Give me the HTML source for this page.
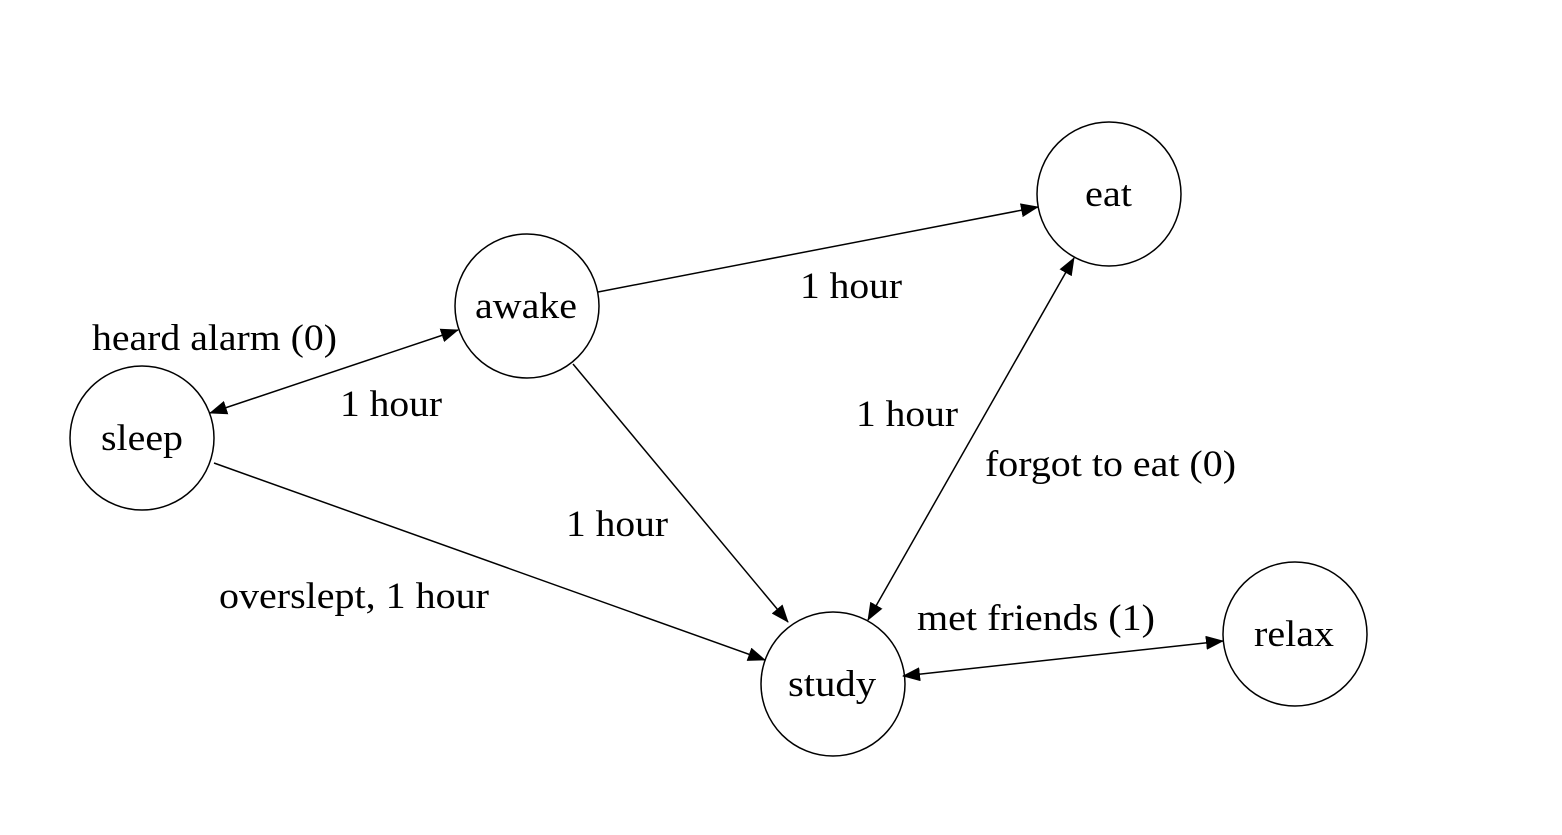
<!DOCTYPE html>
<html><head><style>html,body{margin:0;padding:0;background:#fff}</style></head>
<body>
<svg width="1562" height="830" xmlns="http://www.w3.org/2000/svg" font-family="Liberation Serif, serif" font-size="37">
<defs>
<marker id="b" markerWidth="18" markerHeight="14" refX="17" refY="7" orient="auto-start-reverse" markerUnits="userSpaceOnUse">
<path d="M0,0 L18,7 L0,14 z" fill="#000"/>
</marker>
</defs>
<g fill="none" stroke="#000" stroke-width="1.5">
<circle cx="142" cy="438" r="72"/>
<circle cx="527" cy="306" r="72"/>
<circle cx="1109" cy="194" r="72"/>
<circle cx="833" cy="684" r="72"/>
<circle cx="1295" cy="634" r="72"/>
<line x1="210" y1="413" x2="458" y2="330" marker-start="url(#b)" marker-end="url(#b)"/>
<line x1="598" y1="292" x2="1038" y2="207" marker-end="url(#b)"/>
<line x1="573" y1="364" x2="788" y2="622" marker-end="url(#b)"/>
<line x1="214" y1="463" x2="765" y2="660" marker-end="url(#b)"/>
<line x1="1074" y1="258" x2="868" y2="620" marker-start="url(#b)" marker-end="url(#b)"/>
<line x1="903" y1="676" x2="1223" y2="641" marker-start="url(#b)" marker-end="url(#b)"/>
</g>
<g fill="#000" lengthAdjust="spacingAndGlyphs">
<text x="101" y="450" textLength="82" lengthAdjust="spacingAndGlyphs">sleep</text>
<text x="475" y="318" textLength="102" lengthAdjust="spacingAndGlyphs">awake</text>
<text x="1085" y="206" textLength="47" lengthAdjust="spacingAndGlyphs">eat</text>
<text x="788" y="696" textLength="88" lengthAdjust="spacingAndGlyphs">study</text>
<text x="1254" y="646" textLength="80" lengthAdjust="spacingAndGlyphs">relax</text>
<text x="92" y="350" textLength="245" lengthAdjust="spacingAndGlyphs">heard alarm (0)</text>
<text x="340" y="416" textLength="102" lengthAdjust="spacingAndGlyphs">1 hour</text>
<text x="800" y="298" textLength="102" lengthAdjust="spacingAndGlyphs">1 hour</text>
<text x="856" y="426" textLength="102" lengthAdjust="spacingAndGlyphs">1 hour</text>
<text x="985" y="476" textLength="251" lengthAdjust="spacingAndGlyphs">forgot to eat (0)</text>
<text x="566" y="536" textLength="102" lengthAdjust="spacingAndGlyphs">1 hour</text>
<text x="219" y="608" textLength="270" lengthAdjust="spacingAndGlyphs">overslept, 1 hour</text>
<text x="917" y="630" textLength="238" lengthAdjust="spacingAndGlyphs">met friends (1)</text>
</g>
</svg>
</body></html>
